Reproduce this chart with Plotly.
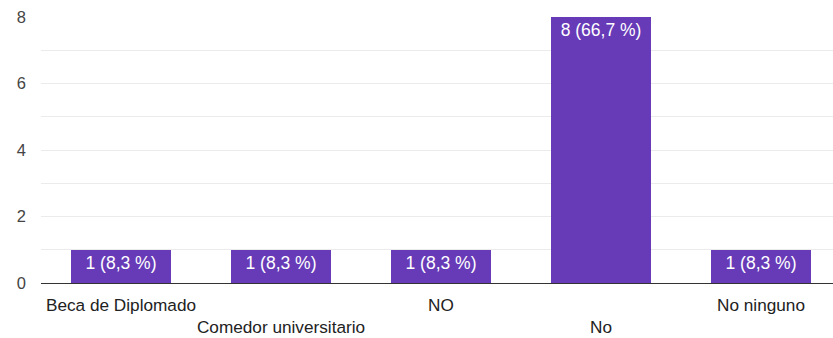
import plotly.graph_objects as go

categories = ["Beca de Diplomado", "Comedor universitario", "NO", "No", "No ninguno"]
counts = [1, 1, 1, 8, 1]
percents = ["8,3", "8,3", "8,3", "66,7", "8,3"]
y_ticks = [0, 2, 4, 6, 8]

bar_text = [f"{c} ({p} %)" for c, p in zip(counts, percents)]
tick_text = [("" if i % 2 == 0 else "<br>") + c for i, c in enumerate(categories)]

FONT = "Liberation Sans, Arial, sans-serif"

fig = go.Figure(
    go.Bar(
        x=categories,
        y=counts,
        text=bar_text,
        textposition="inside",
        insidetextanchor="end",
        textangle=0,
        constraintext="none",
        textfont=dict(color="#ffffff", size=17.5, family=FONT),
        marker=dict(color="#673ab7", line=dict(width=0)),
        width=0.62,
        hoverinfo="skip",
    )
)

fig.update_layout(
    width=833,
    height=338,
    margin=dict(l=41, r=0, t=17, b=55, autoexpand=False),
    plot_bgcolor="#ffffff",
    paper_bgcolor="#ffffff",
    showlegend=False,
    font=dict(family=FONT, size=16, color="#444444"),
    bargap=0,
)

fig.update_xaxes(
    type="category",
    range=[-0.5, 4.45],
    tickvals=categories,
    ticktext=tick_text,
    tickangle=0,
    automargin=False,
    showgrid=False,
    showline=True,
    linecolor="#333333",
    linewidth=1,
    ticks="",
    tickfont=dict(size=17.2, color="#222222"),
    ticklabelstandoff=6,
)

fig.update_yaxes(
    range=[0, 8],
    tickvals=y_ticks,
    automargin=False,
    showgrid=True,
    gridcolor="#ebebeb",
    gridwidth=1,
    minor=dict(dtick=1, tick0=0, showgrid=True, gridcolor="#ebebeb", gridwidth=1),
    zeroline=False,
    showline=False,
    ticks="",
    tickfont=dict(size=16.5, color="#444444"),
    ticklabelstandoff=14,
)

fig.write_html("out.html")
